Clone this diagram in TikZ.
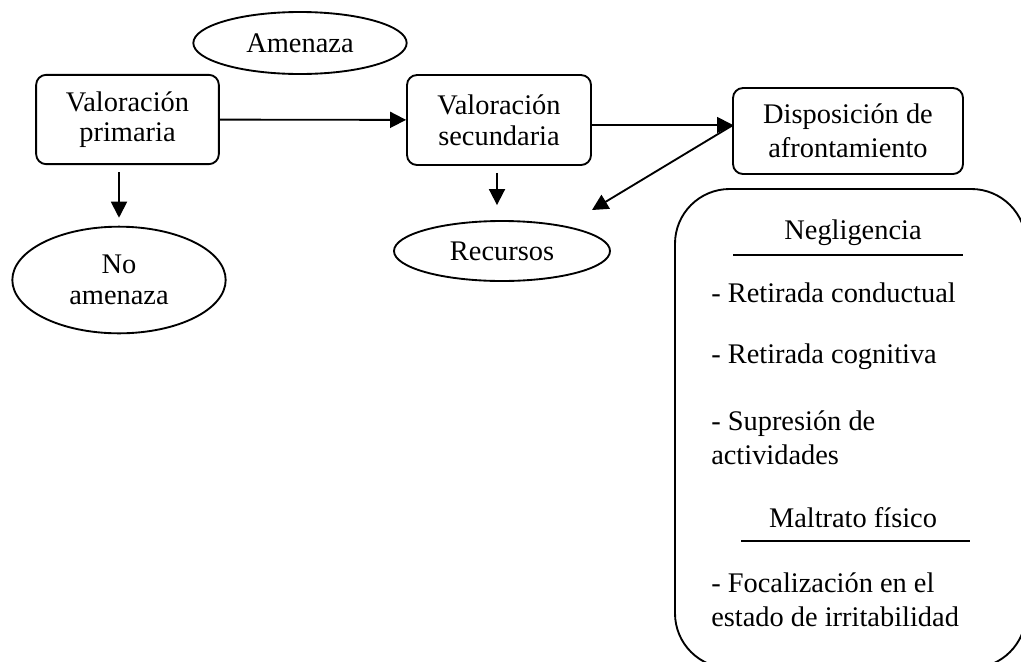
\documentclass[tikz,border=0pt]{standalone}
\usepackage{fontspec}
\setmainfont{Liberation Serif}
\usetikzlibrary{shapes.geometric,arrows.meta,calc}

\tikzset{
  caja/.style={draw,line width=1.4pt,rounded corners=7.5pt,align=center,inner sep=0pt},
  elipse/.style={draw,ellipse,line width=1.4pt,align=center,inner sep=0pt},
  flecha/.style={line width=1.4pt,-{Triangle[length=12pt,width=12pt]}},
  raya/.style={line width=1.4pt},
  lista/.style={anchor=west,align=left,inner sep=0pt,font=\fontsize{21.3}{25.5}\selectfont},
  titulo/.style={inner sep=0pt},
}

\begin{document}
\begin{tikzpicture}[x=0.75pt,y=-0.75pt,font=\fontsize{21.3}{23}\selectfont]
                    \useasboundingbox (0,0) rectangle (1021,661);
                    \clip (0,0) rectangle (1021,661);
                    \coordinate (o1) at (300,43);
                    \coordinate (o2) at (127.5,119.5);
                    \coordinate (o3) at (119,280);
                    \coordinate (o4) at (499,120);
                    \coordinate (o5) at (502,251);
                    \coordinate (o6) at (848,131);
                    \coordinate (j) at (733,125);
                    \coordinate (r) at (592,210);
                    \node[elipse,minimum width=160pt,minimum height=46.5pt] (amen) at (o1) {Amenaza};
                    \node[caja,minimum width=137pt,minimum height=67pt] (prim) at (o2) {Valoración\\primaria};
                    \node[elipse,minimum width=160pt,minimum height=80pt] (noam) at (o3) {No\\amenaza};
                    \node[caja,minimum width=138pt,minimum height=67.5pt] (sec) at (o4) {Valoración\\secundaria};
                    \node[elipse,minimum width=162pt,minimum height=45pt] (rec) at (o5) {Recursos};
                    \node[caja,minimum width=172.5pt,minimum height=64.5pt,font=\fontsize{21.3}{25.5}\selectfont] (disp) at (o6) {Disposición de\\afrontamiento};
                    \draw[flecha] (prim) -- (sec);
                    \draw[flecha] ($(prim.south -| noam.north)+(0,7)$) -- ($(noam.north)+(0,-8)$);
                    \draw[flecha] ($(sec.south -| 497,0)+(0,7)$) -- ($(rec.north -| 497,0)+(0,-15)$);
                    \draw[flecha] (sec.east |- j) -- (j);
                    \draw[flecha] (j) -- (r);
                    \draw[raya,rounded corners=41pt] (675,189) rectangle (1026,668);
                    \node[titulo] (negl) at (853,233) {Negligencia};
                    \draw[raya] (733,255) -- (963,255);
                    \node[lista] (ret1) at (711,293) {- Retirada conductual};
                    \node[lista] (ret2) at (711,357) {- Retirada cognitiva};
                    \node[lista] (sup) at (711,437.5) {- Supresión de\\actividades};
                    \node[titulo] (malt) at (853,518) {Maltrato físico};
                    \draw[raya] (741,541) -- (970,541);
                    \node[lista] (foc) at (711,599.5) {- Focalización en el\\estado de irritabilidad};
                    \end{tikzpicture}
\end{document}
